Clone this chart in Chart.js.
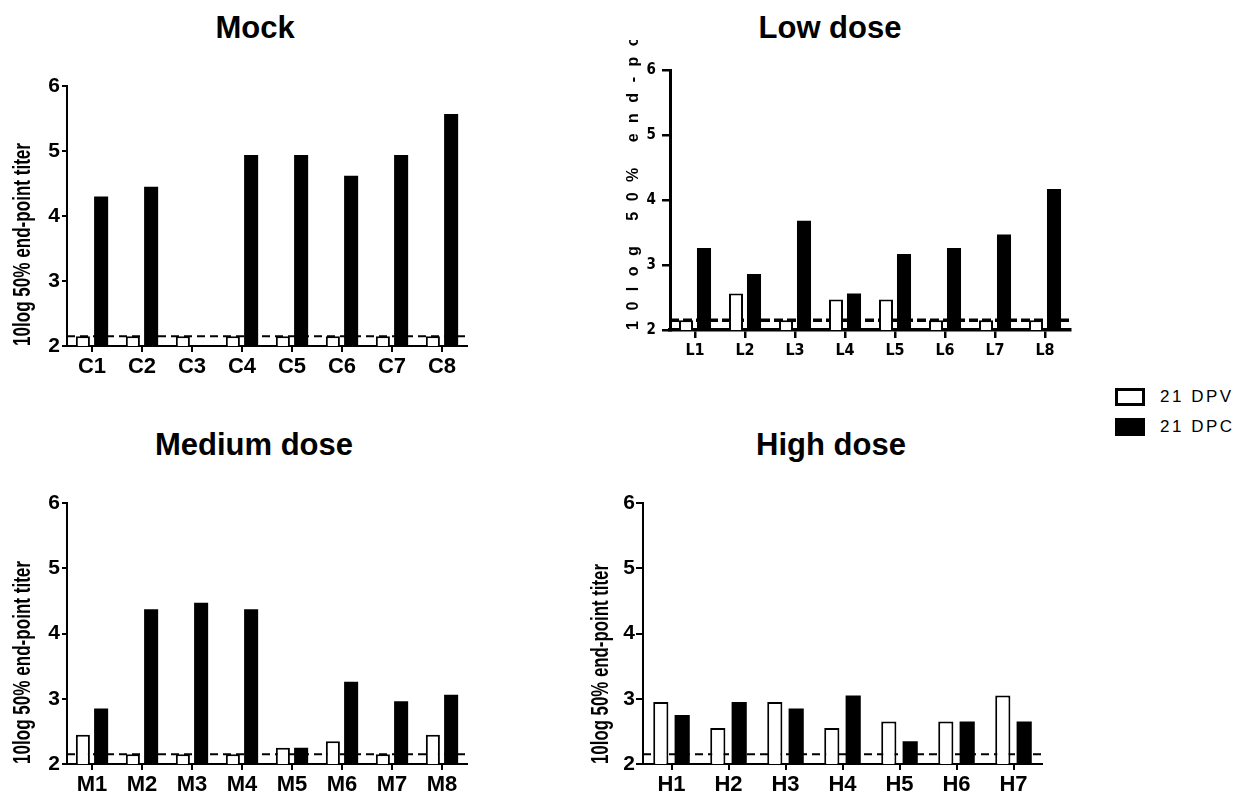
<!DOCTYPE html>
<html>
<head>
<meta charset="utf-8">
<title>Virus titers per animal</title>
<script src="https://cdn.jsdelivr.net/npm/chart.js@4.4.1/dist/chart.umd.min.js"></script>
<style>
  body { margin: 0; background: #fff; }
  #page { position: relative; width: 1234px; height: 792px; overflow: hidden; font-family: 'Liberation Sans', Arial, sans-serif; }
  canvas { position: absolute; }
  .title { position: absolute; transform: translateX(-50%); font-weight: bold; font-size: 31px; line-height: 31px; white-space: nowrap; color: #000; }
  .legend { position: absolute; left: 1115px; top: 388px; font-family: 'Liberation Sans', Arial, sans-serif; font-size: 17px; letter-spacing: 2.5px; color: #000; white-space: nowrap; }
  .legend div { display: flex; align-items: center; height: 18px; margin-bottom: 12px; }
  .swatch { flex: none; width: 30px; height: 18px; box-sizing: border-box; border: 3px solid #000; margin-right: 15px; }
</style>
</head>
<body>
<div id="page">
  <div class="title" style="left:255px;top:12px">Mock</div>
  <div class="title" style="left:830px;top:12px">Low dose</div>
  <div class="title" style="left:254px;top:429px">Medium dose</div>
  <div class="title" style="left:831px;top:429px">High dose</div>

  <canvas id="mock" width="480" height="320" style="left:0px;top:66px"></canvas>
  <canvas id="low" width="485" height="325" style="left:590px;top:40px"></canvas>
  <canvas id="medium" width="480" height="309" style="left:0px;top:483px"></canvas>
  <canvas id="high" width="462" height="309" style="left:585px;top:483px"></canvas>

  <div class="legend">
    <div><span class="swatch" style="background:#fff"></span>21 DPV</div>
    <div><span class="swatch" style="background:#000"></span>21 DPC</div>
  </div>
</div>

<script>
// detection limit and y axis ticks shared by all panels
const detectionLimit = 2.15;
const yTicks = [2, 3, 4, 5, 6];
const seriesNames = ['21 DPV', '21 DPC'];

const mockAnimals = ['C1', 'C2', 'C3', 'C4', 'C5', 'C6', 'C7', 'C8'];
const mockDPV = [2.15, 2.15, 2.15, 2.15, 2.15, 2.15, 2.15, 2.15];
const mockDPC = [4.3, 4.45, null, 4.94, 4.94, 4.62, 4.94, 5.57];

const lowAnimals = ['L1', 'L2', 'L3', 'L4', 'L5', 'L6', 'L7', 'L8'];
const lowDPV = [2.15, 2.56, 2.15, 2.47, 2.47, 2.15, 2.15, 2.15];
const lowDPC = [3.26, 2.86, 3.68, 2.56, 3.17, 3.26, 3.47, 4.17];

const mediumAnimals = ['M1', 'M2', 'M3', 'M4', 'M5', 'M6', 'M7', 'M8'];
const mediumDPV = [2.45, 2.15, 2.15, 2.15, 2.25, 2.35, 2.15, 2.45];
const mediumDPC = [2.85, 4.37, 4.47, 4.37, 2.25, 3.26, 2.96, 3.06];

const highAnimals = ['H1', 'H2', 'H3', 'H4', 'H5', 'H6', 'H7'];
const highDPV = [2.95, 2.55, 2.95, 2.55, 2.65, 2.65, 3.05];
const highDPC = [2.75, 2.95, 2.85, 3.05, 2.35, 2.65, 2.65];

const yTitle = '10log 50% end-point titer';
const narrowFont = "'Liberation Sans Narrow', 'DejaVu Sans Condensed', sans-serif";
const plainFont = "'Liberation Sans', Arial, sans-serif";

// dashed line for the detection limit, drawn under the bars
const limitLine = {
  id: 'limitLine',
  beforeDatasetsDraw(chart, args, opts) {
    const { ctx, chartArea } = chart;
    const py = chart.scales.y.getPixelForValue(opts.value);
    ctx.save();
    ctx.strokeStyle = '#000';
    ctx.lineWidth = opts.width;
    ctx.setLineDash(opts.dash);
    ctx.beginPath();
    ctx.moveTo(chartArea.left, py);
    ctx.lineTo(chartArea.right, py);
    ctx.stroke();
    ctx.restore();
  }
};

// y axis title, starting at the bottom of the axis; squeezed or letter-spaced
const axisTitle = {
  id: 'axisTitle',
  afterDraw(chart, args, opts) {
    const { ctx, chartArea } = chart;
    ctx.save();
    ctx.translate(chart.scales.y.left + opts.offset, chartArea.bottom);
    ctx.rotate(-Math.PI / 2);
    ctx.font = opts.font;
    ctx.letterSpacing = opts.spacing || '0px';
    ctx.fillStyle = '#000';
    ctx.textAlign = 'left';
    ctx.textBaseline = 'middle';
    if (opts.maxWidth) ctx.fillText(opts.text, 0, 0, opts.maxWidth);
    else ctx.fillText(opts.text, 0, 0);
    ctx.restore();
  }
};

function drawPanel(id, animals, dpv, dpc, look) {
  return new Chart(document.getElementById(id), {
    type: 'bar',
    data: {
      labels: animals,
      datasets: [
        { label: seriesNames[0], data: dpv, backgroundColor: '#fff', borderColor: '#000',
          borderWidth: look.barBorder, categoryPercentage: look.catPct, barPercentage: look.barPct },
        { label: seriesNames[1], data: dpc, backgroundColor: '#000', borderColor: '#000',
          borderWidth: 0, categoryPercentage: look.catPct, barPercentage: look.barPct }
      ]
    },
    options: {
      responsive: false,
      animation: false,
      layout: { padding: look.padding },
      plugins: {
        legend: { display: false },
        tooltip: { enabled: false },
        limitLine: { value: detectionLimit, width: look.dashWidth, dash: look.dash },
        axisTitle: Object.assign({ text: yTitle }, look.title)
      },
      scales: {
        x: {
          z: 1,
          offset: true,
          grid: { offset: false, drawOnChartArea: false, drawTicks: true, tickLength: look.xTick,
                  color: '#000', lineWidth: look.tickWidth },
          border: { display: true, color: '#000', width: look.xAxisWidth },
          ticks: { color: '#000', font: look.xFont, padding: look.xPad, maxRotation: 0, autoSkip: false },
          afterFit: s => { s.height = look.xHeight; }
        },
        y: {
          z: 1,
          min: yTicks[0],
          max: yTicks[yTicks.length - 1],
          afterBuildTicks: s => { s.ticks = yTicks.map(v => ({ value: v })); },
          grid: { drawOnChartArea: false, drawTicks: true, tickLength: look.yTick,
                  color: '#000', lineWidth: look.tickWidth },
          border: { display: true, color: '#000', width: look.yAxisWidth },
          ticks: { color: '#000', font: look.yFont, padding: look.yPad },
          afterFit: s => { s.width = look.yWidth; }
        }
      }
    },
    plugins: [limitLine, axisTitle]
  });
}

const squeezedTitle = "bold 24px 'Liberation Sans', Arial, sans-serif";

const bigLook = {
  padding: { top: 20, right: 13, bottom: 0, left: 0 },
  yWidth: 67, xHeight: 40,
  title: { offset: 23, font: squeezedTitle, maxWidth: 203 },
  catPct: 0.73, barPct: 0.77, barBorder: 2,
  xTick: 6, yTick: 5, tickWidth: 2, xAxisWidth: 2, yAxisWidth: 2,
  xPad: 2, yPad: 2,
  xFont: { family: plainFont, size: 22, weight: 'bold' },
  yFont: { family: plainFont, size: 21, weight: 'bold' },
  dash: [8, 5], dashWidth: 2
};

drawPanel('mock', mockAnimals, mockDPV, mockDPC, bigLook);

drawPanel('medium', mediumAnimals, mediumDPV, mediumDPC,
  Object.assign({}, bigLook, { xHeight: 28 }));

drawPanel('high', highAnimals, highDPV, highDPC,
  Object.assign({}, bigLook, {
    xHeight: 28, yWidth: 58, yTick: 7, yPad: 1,
    title: { offset: 16, font: squeezedTitle, maxWidth: 200 },
    catPct: 0.75, barPct: 0.71,
    padding: { top: 20, right: 5, bottom: 0, left: 0 }
  }));

drawPanel('low', lowAnimals, lowDPV, lowDPC, {
  padding: { top: 30, right: 5, bottom: 0, left: 0 },
  yWidth: 80, xHeight: 35,
  title: { offset: 44, font: "bold 16px 'Liberation Sans', Arial, sans-serif", spacing: '10.5px' },
  catPct: 0.72, barPct: 0.78, barBorder: 2,
  xTick: 8, yTick: 8, tickWidth: 2.5, xAxisWidth: 3.5, yAxisWidth: 3,
  xPad: 3, yPad: 6,
  xFont: { family: narrowFont, size: 16, weight: 'bold' },
  yFont: { family: narrowFont, size: 15, weight: 'bold' },
  dash: [9, 4], dashWidth: 3.5
});
</script>
</body>
</html>
